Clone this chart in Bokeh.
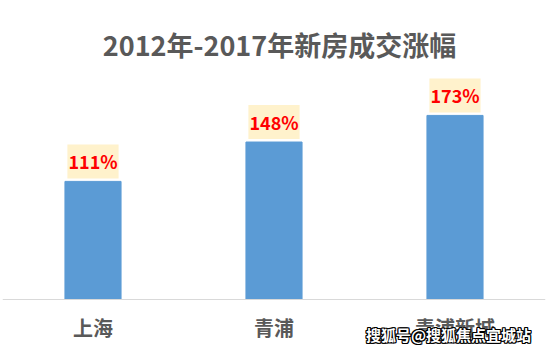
from bokeh.plotting import figure
from bokeh.models import FactorRange, Range1d, ColumnDataSource, Label
from bokeh.core.properties import value
from bokeh.embed import file_html
from bokeh.resources import INLINE

categories = ["上海", "青浦", "青浦新城"]
growth = [111, 148, 173]
labels = ["111%", "148%", "173%"]

title_text = "2012年-2017年新房成交涨幅"
watermark = "搜狐号@搜狐焦点宜城站"

FONT = "Noto Sans CJK SC"
GRAY = "#595959"

src = ColumnDataSource(dict(cat=categories, v=growth, lab=labels))

p = figure(width=547, height=352, x_range=FactorRange(*categories, range_padding=0),
           y_range=Range1d(-49.8, 281), output_backend="svg", toolbar_location=None,
           min_border_left=2, min_border_right=2, min_border_top=0, min_border_bottom=0)

p.vbar(x="cat", top="v", width=0.31, source=src, color="#5B9BD5")
p.text(x="cat", y="v", text="lab", source=src, text_align="center", text_baseline="middle",
       y_offset=-20, text_font=value(FONT), text_font_size="18px", text_font_style="bold",
       text_color="#FF0000", background_fill_color="#FFF2CC", padding=(1, 4))

p.yaxis.visible = False
p.xgrid.visible = False
p.ygrid.visible = False
p.outline_line_color = None
p.xaxis.fixed_location = 0
p.xaxis.axis_line_color = "#D9D9D9"
p.xaxis.major_tick_line_color = None
p.xaxis.minor_tick_line_color = None
p.xaxis.major_label_text_font = FONT
p.xaxis.major_label_text_font_size = "20px"
p.xaxis.major_label_text_font_style = "bold"
p.xaxis.major_label_text_color = GRAY
p.xaxis.major_label_standoff = 7

p.add_layout(Label(x=279, y=44, x_units="canvas", y_units="canvas", text=title_text,
                   text_align="center", text_baseline="middle", text_font=FONT,
                   text_font_size="27px", text_font_style="bold", text_color=GRAY))

for dx, dy in [(-1, 0), (1, 0), (0, -1), (0, 1), (1, 1), (-1, -1), (1, -1), (-1, 1)]:
    p.add_layout(Label(x=448 + dx, y=334 + dy, x_units="canvas", y_units="canvas", text=watermark,
                       text_align="center", text_baseline="middle", text_font=FONT,
                       text_font_size="15px", text_font_style="bold", text_color="black"))
p.add_layout(Label(x=448, y=334, x_units="canvas", y_units="canvas", text=watermark,
                   text_align="center", text_baseline="middle", text_font=FONT,
                   text_font_size="15px", text_font_style="bold", text_color="white"))

open("out.html", "w").write(file_html(p, INLINE))
